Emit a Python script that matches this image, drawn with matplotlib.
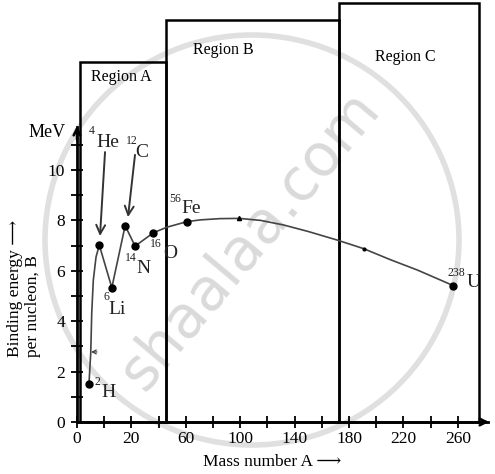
import numpy as np
import matplotlib
matplotlib.use("Agg")
import matplotlib.pyplot as plt
from matplotlib.patches import Ellipse, Rectangle
from matplotlib.ticker import FixedLocator, NullFormatter

# ---------------- data ----------------
nuclide_A = [4.4, 8.2, 12.8, 17.7, 22.7, 36.2, 60.8, 256.8]
nuclide_B = [1.51, 7.02, 5.33, 7.79, 6.98, 7.51, 7.95, 5.41]
nuclide_mass = ["2", "4", "6", "12", "14", "16", "56", "238"]
nuclide_sym = ["H", "He", "Li", "C", "N", "O", "Fe", "U"]

curve_A = [4.4, 5.05, 5.42, 6.0, 7.0, 8.2, 12.8, 17.7, 22.7, 36.2, 46.1,
           60.8, 70.6, 85.0, 99.4, 115.0, 131.8, 150.0, 171.3, 190.7, 210.0,
           230.3, 256.8]
curve_B = [1.51, 2.74, 4.33, 5.63, 6.55, 7.02, 5.33, 7.79, 6.98, 7.51, 7.73,
           7.95, 8.02, 8.07, 8.08, 8.0, 7.82, 7.56, 7.22, 6.88, 6.45,
           6.03, 5.41]

x_ticks = [0, 20, 60, 100, 140, 180, 220, 260]
x_minor = [10, 40, 80, 120, 160, 200, 240]
y_ticks = [0, 2, 4, 6, 8, 10]
y_minor = [1, 3, 5, 7, 9, 11]

regions = ["Region A", "Region B", "Region C"]
region_left = [1.1, 45.6, 173.0]
region_right = [45.6, 173.0, 275.4]
region_top = [14.29, 15.95, 16.63]

# ---------------- style ----------------
serif = ["Liberation Serif", "DejaVu Serif"]
plt.rcParams["font.family"] = serif

W, H = 495, 474
fig = plt.figure(figsize=(W / 100, H / 100), dpi=100)

# watermark (behind everything)
fig.patches.append(Ellipse((252 / W, 1 - 240 / H), 414 / W, 410 / H,
                           transform=fig.transFigure, fill=False,
                           ec="#e0e0e0", lw=4, zorder=-5))
fig.text(250 / W, 1 - 240 / H, "shaalaa.com", family="DejaVu Sans",
         fontsize=42, color="#dadada", rotation=50, ha="center",
         va="center", zorder=-5)

ax = fig.add_axes([77 / W, 1 - 422 / H, 1 - 77 / W, 422 / H])
ax.patch.set_alpha(0)


def fwd(a):
    a = np.asarray(a, dtype=float)
    return np.where(a <= 20, a / 20.0, 1 + (a - 20) / 40.0)


def inv(u):
    u = np.asarray(u, dtype=float)
    return np.where(u <= 1, u * 20.0, 20 + (u - 1) * 40.0)


ax.set_xscale("function", functions=(fwd, inv))
u_right = (W - 77) / 54.4
ax.set_xlim(0, float(inv(u_right)))
ax.set_ylim(0, 422 / 25.2)

for s in ["top", "right"]:
    ax.spines[s].set_visible(False)
for s in ["left", "bottom"]:
    ax.spines[s].set_linewidth(2.0)
ax.spines["left"].set_bounds(0, 11.7)
ax.spines["bottom"].set_bounds(0, 282)

ax.xaxis.set_major_locator(FixedLocator(x_ticks))
ax.xaxis.set_minor_locator(FixedLocator(x_minor))
ax.set_xticklabels([str(t) for t in x_ticks])
ax.xaxis.set_minor_formatter(NullFormatter())
ax.yaxis.set_major_locator(FixedLocator(y_ticks))
ax.yaxis.set_minor_locator(FixedLocator(y_minor))
ax.set_yticklabels([str(t) for t in y_ticks])
ax.yaxis.set_minor_formatter(NullFormatter())
ax.tick_params(which="both", direction="inout", length=9, width=1.3,
               labelsize=12.5, pad=2)
ax.tick_params(axis="y", pad=4)

# axis arrows
ax.annotate("", xy=(0, 11.75), xytext=(0, 11.2),
            arrowprops=dict(arrowstyle="->", lw=1.8, color="black",
                            mutation_scale=12, shrinkA=0, shrinkB=0),
            annotation_clip=False)
ax.annotate("", xy=(283, 0), xytext=(275, 0),
            arrowprops=dict(arrowstyle="->", lw=1.8, color="black",
                            mutation_scale=12, shrinkA=0, shrinkB=0),
            annotation_clip=False)

# region boxes
for name, l, r, t in zip(regions, region_left, region_right, region_top):
    ax.add_patch(Rectangle((l, 0), r - l, t, fill=False, ec="black",
                           lw=1.8, clip_on=False, zorder=3))
ax.text(16.4, 13.69, regions[0], fontsize=11.5, ha="center", va="center")
ax.text(87.4, 14.76, regions[1], fontsize=11.5, ha="center", va="center")
ax.text(221.6, 14.48, regions[2], fontsize=11.5, ha="center", va="center")

# curve and points
ax.plot(curve_A, curve_B, color="#444444", lw=1.2, zorder=4)
ax.plot(nuclide_A, nuclide_B, "o", color="black", ms=5, zorder=5)
ax.plot([99.4], [8.1], marker="^", color="black", ms=3, zorder=5)
ax.plot([190.7], [6.88], marker="o", color="black", ms=2, zorder=5)

# labels of nuclides (mass number, symbol positions)
mass_pos = [(7.35, 1.59), (5.5, 11.55), (10.66, 4.96), (20.4, 11.15),
            (19.85, 6.51), (38.1, 7.06), (52.1, 8.85), (258.7, 5.91)]
sym_pos = [(11.6, 1.19), (11.4, 11.11), (14.9, 4.48), (27.8, 10.71),
           (28.9, 6.11), (48.4, 6.67), (63.8, 8.49), (271.9, 5.52)]
for m, s, mp, sp in zip(nuclide_mass, nuclide_sym, mass_pos, sym_pos):
    ax.text(mp[0], mp[1], m, fontsize=8.5, ha="center", va="center",
            color="#222222", clip_on=False)
    ax.text(sp[0], sp[1], s, fontsize=14, ha="center", va="center",
            color="#222222", clip_on=False)

# pointer arrows
arrow_kw = dict(arrowstyle="->", lw=1.4, color="#333333",
                mutation_scale=16, shrinkA=0, shrinkB=0)
ax.annotate("", xy=(8.46, 7.38), xytext=(10.3, 10.71), arrowprops=arrow_kw)
ax.annotate("", xy=(18.75, 8.13), xytext=(22.65, 10.6), arrowprops=arrow_kw)
ax.annotate("", xy=(5.15, 2.78), xytext=(7.35, 2.78),
            arrowprops=dict(arrowstyle="->", lw=0.9, color="#444444",
                            mutation_scale=7, shrinkA=0, shrinkB=0))

# axis unit and titles
ax.text(-11.0, 11.47, "MeV", fontsize=13, ha="center", va="center",
        clip_on=False)
fig.text(272 / W, 1 - 462 / H, "Mass number A \u27f6", fontsize=12.5,
         ha="center", va="center", family=serif + ["DejaVu Sans"])
fig.text(24 / W, 1 - 357 / H, "Binding energy \u27f6\nper nucleon, B",
         fontsize=12.5, rotation=90, ha="center", va="bottom",
         multialignment="left", linespacing=1.1,
         family=serif + ["DejaVu Sans"])

fig.savefig("out.png", dpi=100)
